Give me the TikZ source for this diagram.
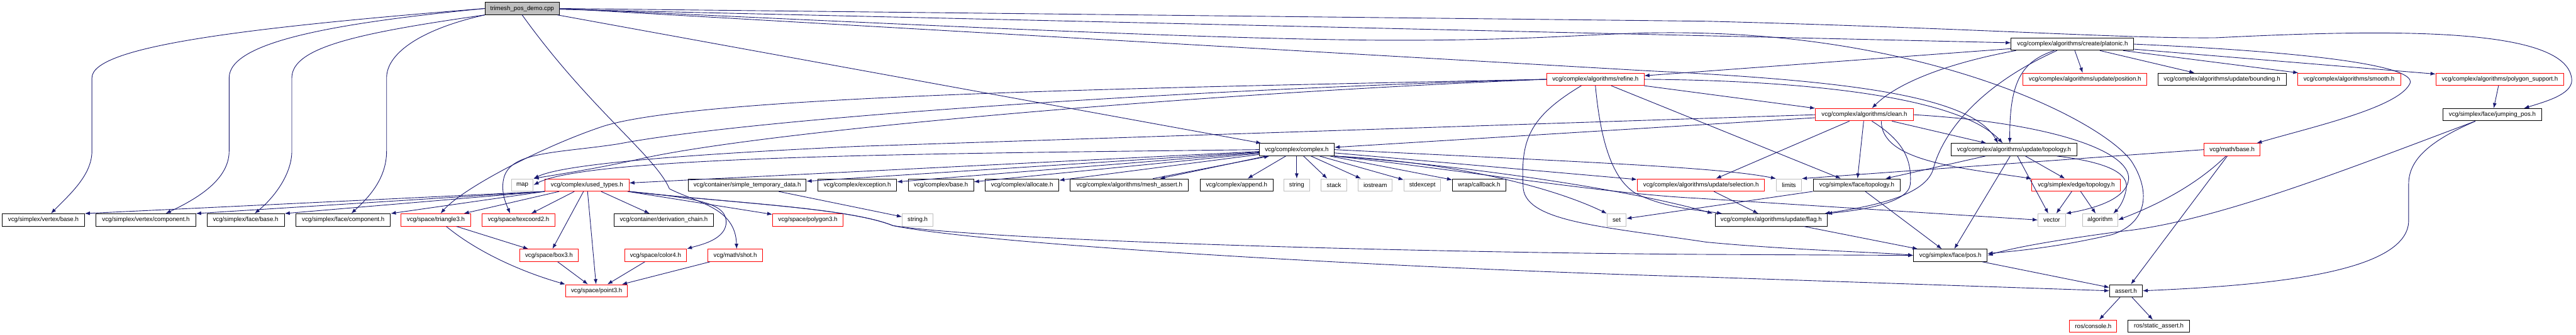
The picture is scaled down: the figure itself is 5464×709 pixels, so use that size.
\documentclass[tikz,border=0pt]{standalone}
\usepackage{fontspec}
\newfontfamily\dox{Liberation Sans}
\usetikzlibrary{arrows.meta}
\definecolor{eblue}{HTML}{191970}
\definecolor{gborder}{HTML}{BFBFBF}
\definecolor{rootfill}{HTML}{BFBFBF}
\tikzset{
 nd/.style={draw=black, fill=white, line width=1.3pt, minimum height=26pt, inner xsep=1pt, inner ysep=0pt, font=\dox\fontsize{13}{15}\selectfont},
 rd/.style={nd, draw=red},
 gy/.style={nd, draw=gborder},
 rt/.style={nd, fill=rootfill},
 ed/.style={draw=eblue, line width=1.2pt, -{Latex[length=11pt,width=8pt]}},
}
\begin{document}
\begin{tikzpicture}[x=1pt,y=-1pt]
\fill[white] (0,0) rectangle (5464,709);
\useasboundingbox (0,0) rectangle (5464,709);
% rank 0-4
\node[rt, minimum width=157pt] (R) at (1107.5,18) {trimesh\_pos\_demo.cpp};
\node[nd, minimum width=260pt] (P) at (4396,93.5) {vcg/complex/algorithms/create/platonic.h};
\node[rd, minimum width=206pt] (Rf) at (3384,168) {vcg/complex/algorithms/refine.h};
\node[rd, minimum width=263pt] (Ps) at (4422.5,168) {vcg/complex/algorithms/update/position.h};
\node[nd, minimum width=272pt] (Bd) at (4713,168) {vcg/complex/algorithms/update/bounding.h};
\node[rd, minimum width=219pt] (Sm) at (4982.5,168) {vcg/complex/algorithms/smooth.h};
\node[rd, minimum width=271pt] (Py) at (5302.5,168) {vcg/complex/algorithms/polygon\_support.h};
\node[rd, minimum width=207pt] (Cl) at (3954.5,243) {vcg/complex/algorithms/clean.h};
\node[nd, minimum width=209pt] (J) at (5286.5,243) {vcg/simplex/face/jumping\_pos.h};
\node[nd, minimum width=159pt] (C) at (2750.5,317) {vcg/complex/complex.h};
\node[nd, minimum width=266pt] (T) at (4272,317) {vcg/complex/algorithms/update/topology.h};
\node[rd, minimum width=119pt] (M) at (4734.5,317) {vcg/math/base.h};
% rank 5
\node[gy, minimum width=46pt] (map) at (1108,392) {map};
\node[rd, minimum width=178pt] (U) at (1245,392) {vcg/complex/used\_types.h};
\node[nd, minimum width=250pt] (St) at (1585,392) {vcg/container/simple\_temporary\_data.h};
\node[nd, minimum width=167pt] (Ex) at (1818.5,392) {vcg/complex/exception.h};
\node[nd, minimum width=138pt] (Cb) at (1996,392) {vcg/complex/base.h};
\node[nd, minimum width=156pt] (Al) at (2168,392) {vcg/complex/allocate.h};
\node[nd, minimum width=251pt] (Ma) at (2395.5,392) {vcg/complex/algorithms/mesh\_assert.h};
\node[nd, minimum width=154pt] (Ap) at (2623,392) {vcg/complex/append.h};
\node[gy, minimum width=55pt] (string) at (2750.5,392) {string};
\node[gy, minimum width=55pt] (stack) at (2829.5,392) {stack};
\node[gy, minimum width=72pt] (ios) at (2917,392) {iostream};
\node[gy, minimum width=78pt] (stdx) at (3017,392) {stdexcept};
\node[nd, minimum width=113pt] (cbk) at (3137.5,392) {wrap/callback.h};
\node[rd, minimum width=270pt] (Se) at (3608,392) {vcg/complex/algorithms/update/selection.h};
\node[gy, minimum width=53pt] (lim) at (3794.5,392) {limits};
\node[nd, minimum width=185pt] (Ft) at (3938.5,392) {vcg/simplex/face/topology.h};
\node[rd, minimum width=188pt] (Et) at (4404,392) {vcg/simplex/edge/topology.h};
% rank 6
\node[nd, minimum width=174pt] (Vb) at (92,466) {vcg/simplex/vertex/base.h};
\node[nd, minimum width=211pt] (Vc) at (309.5,466) {vcg/simplex/vertex/component.h};
\node[nd, minimum width=164pt] (Fb) at (521,466) {vcg/simplex/face/base.h};
\node[nd, minimum width=200pt] (Fc) at (728,466) {vcg/simplex/face/component.h};
\node[rd, minimum width=147pt] (Tr) at (924.5,466) {vcg/space/triangle3.h};
\node[rd, minimum width=154pt] (Tx) at (1100,466) {vcg/space/texcoord2.h};
\node[nd, minimum width=210pt] (Dc) at (1408,466) {vcg/container/derivation\_chain.h};
\node[rd, minimum width=149pt] (Pg) at (1713.5,466) {vcg/space/polygon3.h};
\node[gy, minimum width=65pt] (strh) at (1946.5,466) {string.h};
\node[gy, minimum width=40pt] (set) at (3429,466) {set};
\node[nd, minimum width=238pt] (Fl) at (3757,466) {vcg/complex/algorithms/update/flag.h};
\node[gy, minimum width=58pt] (vec) at (4352,466) {vector};
\node[gy, minimum width=75pt] (alg) at (4454.5,466) {algorithm};
% rank 7-9
\node[rd, minimum width=125pt] (Bx) at (1164.5,541) {vcg/space/box3.h};
\node[rd, minimum width=131pt] (Co) at (1390.5,541) {vcg/space/color4.h};
\node[rd, minimum width=117pt] (Sh) at (1559.5,541) {vcg/math/shot.h};
\node[nd, minimum width=156pt] (Pos) at (4137,541) {vcg/simplex/face/pos.h};
\node[rd, minimum width=131pt] (P3) at (1265.5,616) {vcg/space/point3.h};
\node[nd, minimum width=69pt] (As) at (4509.5,616) {assert.h};
\node[rd, minimum width=100pt] (Rc) at (4440,691) {ros/console.h};
\node[nd, minimum width=130pt] (Rs) at (4579,691) {ros/static\_assert.h};

% straight edges
\foreach \a/\b in {R/C, R/P, P/Rf, P/Ps, P/Bd, P/Sm, P/Py, Py/J,
  C/U, C/St, C/Ex, C/Cb, C/Al, C/Ma, C/Ap, C/string, C/stack, C/ios, C/stdx, C/cbk, C/Se,
  Rf/Cl, Rf/Ft, Cl/C, Cl/Se, Cl/Ft, Cl/T,
  T/Ft, T/Pos, T/vec, T/Et, Et/vec, Et/alg, Ft/Pos, Ft/set, Se/Fl, Fl/Pos, Pos/As,
  M/As, As/Rc, As/Rs,
  U/Tr, U/Tx, U/Dc, U/Bx, U/P3, U/Pg, Tr/Bx, Bx/P3, Co/P3, Sh/P3, St/strh}
  \draw[ed] (\a) -- (\b);
\draw[ed] (U.south west) -- (Vb.north east);
\draw[ed] (U.south west) -- (Vc.north east);
\draw[ed] (U.south west) -- (Fb.north east);
\draw[ed] (U.south west) -- (Fc.north east);
\draw[ed] (M.west) -- (lim.north east);
\draw[ed] ([xshift=50pt]Ma.north) -- ([xshift=-58pt]C.south);

% root curves
\draw[ed] (R.west) .. controls (500,60) and (195,100) .. (195,165) -- (195,320) .. controls (195,370) and (150,410) .. ([xshift=16pt]Vb.north);
\draw[ed] (R.west) .. controls (700,50) and (486,90) .. (486,165) -- (486,320) .. controls (486,380) and (420,420) .. ([xshift=42pt]Vc.north);
\draw[ed] (R.south west) .. controls (760,70) and (619,100) .. (619,165) -- (619,320) .. controls (619,370) and (580,420) .. ([xshift=19pt]Fb.north);
\draw[ed] (R.south west) .. controls (900,60) and (820,110) .. (820,165) -- (820,320) .. controls (820,380) and (780,420) .. ([xshift=17pt]Fc.north);
\draw[ed] (R.south) .. controls (1250,230) and (1390,330) .. (1420,400) .. controls (1480,430) and (1560,440) .. ([xshift=3pt]Sh.north);
\draw[ed] (R.east) -- (3495,150) .. controls (3900,170) and (4180,200) .. ([xshift=-34pt]T.north);
\draw[ed] (R.east) .. controls (2000,55) and (2500,80) .. (2900,85) .. controls (3300,88) and (3400,65) .. (3600,70) .. controls (4100,80) and (4450,250) .. (4520,340) .. controls (4560,400) and (4560,470) .. (4480,497) .. controls (4380,520) and (4300,530) .. ([yshift=4pt]Pos.east);
\draw[ed] (R.east) -- (3620,45) .. controls (4200,60) and (4500,82) .. (4700,80) .. controls (5100,60) and (5450,60) .. (5455,170) .. controls (5455,200) and (5400,215) .. ([xshift=67pt]J.north);

% platonic curves
\draw[ed] (P.east) .. controls (4900,110) and (5140,140) .. (5110,180) .. controls (5080,230) and (4900,270) .. ([xshift=52pt]M.north);
\draw[ed] ([xshift=-120pt]P.south) .. controls (4150,130) and (4030,170) .. ([xshift=16pt]Cl.north);
\draw[ed] ([xshift=-39pt]P.south) .. controls (4290,130) and (4262,170) .. ([xshift=-9pt]T.north);
\draw[ed] ([xshift=-33pt]P.south) .. controls (4200,180) and (4120,280) .. (4100,360) .. controls (4080,420) and (3950,440) .. ([xshift=113pt]Fl.north);

% refine curves
\draw[ed] (Rf.west) .. controls (2500,185) and (1500,200) .. (1281,267) .. controls (1150,310) and (980,400) .. ([xshift=10pt]Tr.north);
\draw[ed] (Rf.west) .. controls (2500,190) and (1600,250) .. (1311,305) .. controls (1180,325) and (1080,320) .. (1068,380) .. controls (1062,410) and (1075,435) .. ([xshift=-18pt]Tx.north);
\draw[ed] (Rf.west) .. controls (2500,200) and (1600,280) .. (1352,338) .. controls (1250,360) and (1180,370) .. (map.north east);
\draw[ed] (Rf.east) .. controls (3800,170) and (4150,200) .. ([xshift=-24pt]T.north);
\draw[ed] ([xshift=-30pt]Rf.south) .. controls (3240,250) and (3225,300) .. (3231,400) .. controls (3240,470) and (3400,480) .. (3620,513) .. controls (3800,530) and (4000,535) .. (Pos.west);
\draw[ed] (Rf.south) .. controls (3395,300) and (3420,380) .. (3470,410) .. controls (3530,440) and (3600,445) .. ([xshift=-104pt]Fl.north);

% clean curves
\draw[ed] (Cl.west) -- (1820,310) .. controls (1500,325) and (1200,345) .. (map.north east);
\draw[ed] ([xshift=16pt]Cl.south) .. controls (4040,300) and (4055,340) .. (4052,390) .. controls (4048,430) and (3950,445) .. ([xshift=118pt]Fl.north);
\draw[ed] (Cl.east) .. controls (4350,260) and (4520,320) .. (4515,380) .. controls (4510,420) and (4450,440) .. (vec.north east);
\draw[ed] ([xshift=36pt]Cl.south) .. controls (3990,340) and (4150,355) .. (Et.north west);

% complex curves
\draw[ed] (C.west) .. controls (2000,325) and (1250,330) .. (map.east);
\draw[ed] (C.south east) .. controls (3100,345) and (3300,400) .. (set.north west);
\draw[ed] (C.south east) .. controls (3100,350) and (3450,400) .. ([xshift=-124pt]Fl.north);
\draw[ed] (C.east) .. controls (3400,345) and (3650,355) .. (lim.north west);
\draw[ed] (C.south east) .. controls (3100,360) and (3400,410) .. (3600,420) -- (vec.west);

% topology / math / jumping
\draw[ed] ([xshift=91pt]T.south) .. controls (4480,345) and (4515,370) .. (4510,400) .. controls (4505,430) and (4490,445) .. ([xshift=28pt]alg.north);
\draw[ed] ([xshift=-13pt]M.south) .. controls (4650,400) and (4560,440) .. (alg.east);
\draw[ed] ([xshift=-36pt]J.south) .. controls (5000,350) and (4700,470) .. (4500,490) .. controls (4350,510) and (4270,525) .. (Pos.east);
\draw[ed] ([xshift=-36pt]J.south) .. controls (5150,300) and (5109,340) .. (5109,390) -- (5109,467) .. controls (5109,580) and (4800,605) .. (As.east);

% used_types curves
\draw[ed] (U.south east) .. controls (1480,420) and (1545,430) .. (1540,475) .. controls (1535,510) and (1480,520) .. (Co.north east);
\draw[ed] (U.south east) .. controls (1550,430) and (1800,440) .. (1894,478) .. controls (2100,510) and (3000,535) .. (3620,539) -- (Pos.west);
\draw[ed] (U.south east) .. controls (1550,430) and (1800,440) .. (1894,478) .. controls (2100,520) and (3000,570) .. (3620,587) -- (As.west);
\draw[ed] ([xshift=22pt]Tr.south) .. controls (1020,540) and (1120,580) .. (P3.north west);
\end{tikzpicture}
\end{document}
